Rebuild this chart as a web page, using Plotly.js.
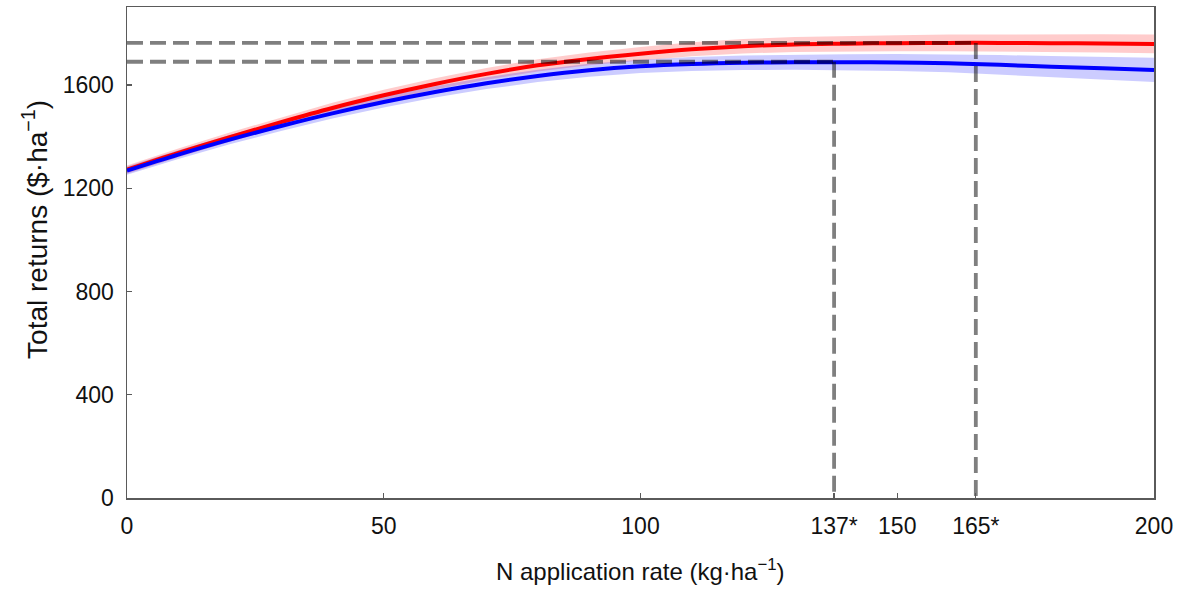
<!DOCTYPE html>
<html>
<head>
<meta charset="utf-8">
<script src="https://cdn.plot.ly/plotly-3.0.1.min.js"></script>
<style>html,body{margin:0;padding:0;background:#fff;}#chart{width:1185px;height:591px;}</style>
</head>
<body>
<div id="chart"></div>
<script>
// N application rate (kg/ha)
const nRate = [0,10,20,30,40,50,60,70,80,90,100,110,120,130,140,150,160,170,180,190,200];
// Red series: total returns ($/ha) and CI half-width
const redReturns = [1272,1337,1398,1456,1511,1560,1604,1643,1676,1701,1721,1738,1750,1757,1760,1762,1763,1763,1762,1761,1759];
const redCI      = [16,17,18,19,20,21,22,23,24,25,26,27,28,29,30,31,32,33,34,35,36];
// Blue series
const blueReturns = [1268,1330,1388,1441,1490,1534,1573,1607,1635,1657,1672,1681,1686,1688,1688,1687,1684,1678,1671,1665,1658];
const blueCI      = [16,17,18,19,20,21,22,23,24,25,26,27,28,29,31,33,35,38,41,44,47];
// Economic optimum N rates and returns
const optRate    = [137.7, 165.3];
const optReturns = [1690, 1763];
// Tick labels
const xTickVals = [0,50,100,optRate[0],150,optRate[1],200];
const xTickText = ["0","50","100","137*","150","165*","200"];
const yTickVals = [0,400,800,1200,1600];

function band(y, ci, color) {
  const up = y.map((v,i)=>v+ci[i]);
  const lo = y.map((v,i)=>v-ci[i]);
  return {x: nRate.concat(nRate.slice().reverse()), y: up.concat(lo.slice().reverse()),
    type:'scatter', mode:'lines', fill:'toself', fillcolor: color, line:{width:0}, hoverinfo:'skip', showlegend:false};
}
const dashStyle = {color:'rgba(0,0,0,0.5)', width:3.8, dash:'16px,7px'};
const traces = [
  band(redReturns, redCI, 'rgba(255,0,0,0.2)'),
  band(blueReturns, blueCI, 'rgba(0,0,255,0.2)'),
  {x:nRate, y:redReturns, type:'scatter', mode:'lines', line:{color:'#ff0000', width:4, shape:'spline'}, showlegend:false},
  {x:nRate, y:blueReturns, type:'scatter', mode:'lines', line:{color:'#0000ff', width:4, shape:'spline'}, showlegend:false}
];
optRate.forEach((r,i)=>{
  traces.push({x:[0, r], y:[optReturns[i], optReturns[i]], type:'scatter', mode:'lines', line:dashStyle, showlegend:false});
  traces.push({x:[r, r], y:[optReturns[i], 0], type:'scatter', mode:'lines', line:dashStyle, showlegend:false});
});

const font = "'Liberation Sans', Arial, Helvetica, sans-serif";
const axisCommon = {showgrid:false, zeroline:false, showline:true, linecolor:'#5a5a5a', linewidth:1.5, mirror:true,
  ticks:'inside', ticklen:5, tickwidth:1.2, tickcolor:'#5a5a5a', tickfont:{family:font, size:23, color:'#111'}};
const layout = {
  width:1185, height:591,
  margin:{l:127, r:31, t:7, b:93},
  paper_bgcolor:'#fff', plot_bgcolor:'#fff',
  showlegend:false,
  xaxis: Object.assign({}, axisCommon, {range:[0,200], tickmode:'array', tickvals:xTickVals, ticktext:xTickText, ticklabelstandoff:7}),
  yaxis: Object.assign({}, axisCommon, {range:[0,1902], tickmode:'array', tickvals:yTickVals, ticklabelstandoff:7}),
  annotations:[
    {text:'N application rate (kg·ha<sup>−1</sup>)', xref:'paper', yref:'paper', x:0.5, y:-0.147, xanchor:'center', yanchor:'middle',
     showarrow:false, font:{family:font, size:24, color:'#111'}},
    {text:'Total returns ($·ha<sup>−1</sup>)', xref:'paper', yref:'paper', x:-0.0896, y:0.548, xanchor:'center', yanchor:'middle',
     textangle:-90, showarrow:false, font:{family:font, size:28, color:'#111'}}
  ]
};
Plotly.newPlot('chart', traces, layout, {displayModeBar:false, staticPlot:true});
</script>
</body>
</html>
